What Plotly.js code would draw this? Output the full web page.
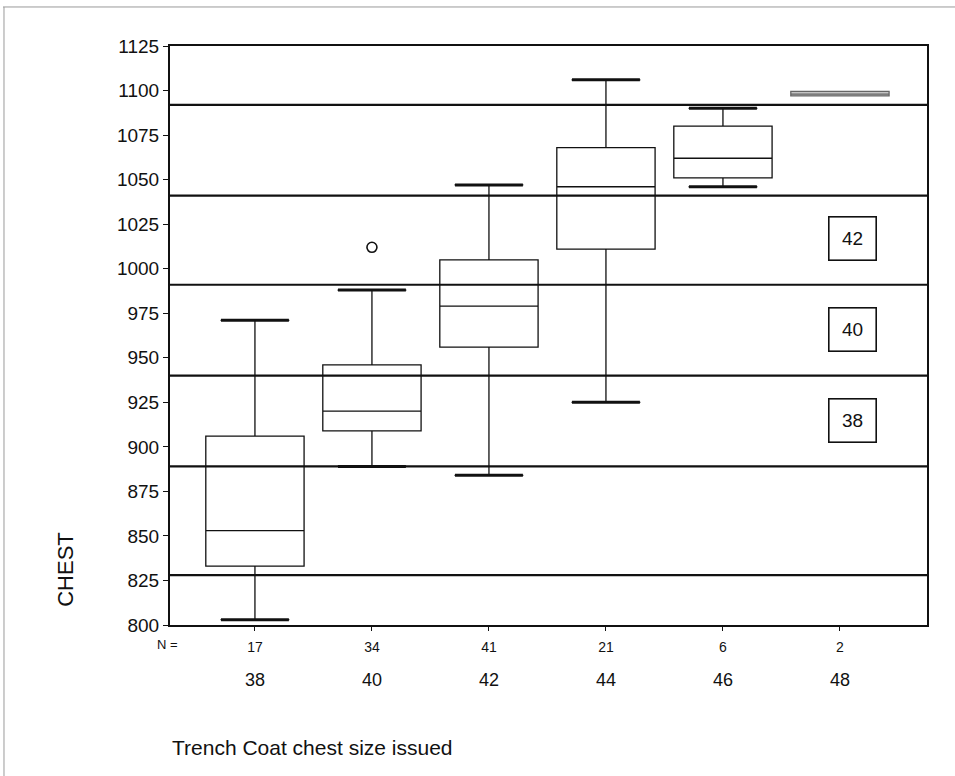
<!DOCTYPE html>
<html>
<head>
<meta charset="utf-8">
<script src="https://cdn.plot.ly/plotly-3.0.1.min.js"></script>
<style>html,body{margin:0;padding:0;background:#fff;}#chart{width:955px;height:776px;}</style>
</head>
<body>
<div id="chart"></div>
<script>
// ---- data ----
const sizes = ['38', '40', '42', '44', '46', '48'];
const nCounts = ['17', '34', '41', '21', '6', '2'];
const lowerWhisker = [803, 889, 884, 925, 1046, 1097];
const q1 = [833, 909, 956, 1011, 1051, 1097];
const median = [853, 920, 979, 1046, 1062, 1098];
const q3 = [906, 946, 1005, 1068, 1080, 1099.5];
const upperWhisker = [971, 988, 1047, 1106, 1090, 1099.5];
const outlierSize = ['40'];
const outlierValue = [1012];
const refLines = [1092, 1041, 991, 940, 889, 828];
const bandLabels = ['42', '40', '38'];
const bandLabelY = [1017, 966, 915];
const xTitle = 'Trench Coat chest size issued';
const yTitle = 'CHEST';

const FONT = 'Liberation Sans, Arial, sans-serif';
const nMain = 5;
// positions of the size categories on a linear axis (one slot per size)
const pos = sizes.map((_, i) => i);

function boxTrace(from, to, fill, lineColor) {
  return {
    type: 'box',
    x: pos.slice(from, to),
    q1: q1.slice(from, to),
    median: median.slice(from, to),
    q3: q3.slice(from, to),
    lowerfence: lowerWhisker.slice(from, to),
    upperfence: upperWhisker.slice(from, to),
    width: 0.84,
    whiskerwidth: 0.7,
    fillcolor: fill,
    line: {color: lineColor, width: 1.3},
    boxpoints: false,
    hoverinfo: 'skip',
    showlegend: false
  };
}

// heavier whisker caps (as in the reference), drawn from the whisker arrays
const capX = [], capY = [];
for (let i = 0; i < nMain; i++) {
  [lowerWhisker[i], upperWhisker[i]].forEach(v => {
    capX.push(pos[i] - 0.29, pos[i] + 0.29, null);
    capY.push(v, v, null);
  });
}

const traces = [
  boxTrace(0, nMain, '#ffffff', '#111111'),
  boxTrace(nMain, sizes.length, '#c4c4c4', '#666666'),
  {
    type: 'scatter', mode: 'lines', x: capX, y: capY,
    line: {color: '#111', width: 3}, hoverinfo: 'skip', showlegend: false, connectgaps: false
  },
  {
    type: 'scatter', mode: 'markers',
    x: outlierSize.map(s => pos[sizes.indexOf(s)]), y: outlierValue,
    marker: {symbol: 'circle-open', size: 10, color: '#111', line: {width: 1.6, color: '#111'}},
    hoverinfo: 'skip', showlegend: false
  }
];

const shapes = refLines.map(v => ({
  type: 'line', xref: 'paper', x0: 0, x1: 1, yref: 'y', y0: v, y1: v,
  line: {color: '#111', width: 2.2}, layer: 'above'
}));
// outer frame of the scanned figure
shapes.push({type: 'line', xref: 'paper', yref: 'paper', x0: -0.2206, x1: 1.04, y0: 1.0674, y1: 1.0674, line: {color: '#9a9a9a', width: 1}});
shapes.push({type: 'line', xref: 'paper', yref: 'paper', x0: -0.2193, x1: -0.2193, y0: 1.0674, y1: -0.27, line: {color: '#9a9a9a', width: 1}});

const annotations = [];
bandLabels.forEach((t, i) => annotations.push({
  xref: 'x', yref: 'y', x: 5.11, y: bandLabelY[i], text: t, showarrow: false,
  font: {family: FONT, size: 19, color: '#111'},
  bordercolor: '#111', borderwidth: 1.6, borderpad: 3, bgcolor: '#fff',
  width: 40, height: 36
}));
sizes.forEach((s, i) => annotations.push({
  xref: 'x', yref: 'paper', x: pos[i], y: -0.095, yanchor: 'middle', xanchor: 'center', text: s, showarrow: false,
  font: {family: FONT, size: 18, color: '#111'}
}));
annotations.push({
  xref: 'paper', yref: 'paper', x: -0.003, y: -0.0345, yanchor: 'middle', xanchor: 'center',
  text: 'N =', showarrow: false, font: {family: FONT, size: 13, color: '#111'}
});
annotations.push({
  xref: 'paper', yref: 'paper', x: 0, y: -0.212, xanchor: 'left', yanchor: 'middle',
  text: xTitle, showarrow: false, font: {family: FONT, size: 21, color: '#111'}
});
annotations.push({
  xref: 'paper', yref: 'paper', x: -0.139, y: 0.0967, xanchor: 'center', yanchor: 'middle',
  text: yTitle, textangle: -90, showarrow: false, font: {family: FONT, size: 22, color: '#111'}
});

const layout = {
  width: 955, height: 776,
  margin: {l: 170, r: 28, t: 46, b: 151},
  paper_bgcolor: '#fff', plot_bgcolor: '#fff',
  font: {family: FONT, color: '#111'},
  showlegend: false,
  boxmode: 'overlay',
  xaxis: {
    type: 'linear',
    range: [-0.726, 5.744],
    tickmode: 'array', tickvals: pos, ticktext: nCounts,
    ticks: 'outside', ticklen: 4, tickwidth: 1, tickcolor: '#111',
    ticklabelstandoff: 4,
    tickfont: {family: FONT, size: 14, color: '#111'},
    showgrid: false, zeroline: false,
    showline: true, linecolor: '#111', linewidth: 2, mirror: true
  },
  yaxis: {
    range: [800, 1125],
    tickmode: 'linear', tick0: 800, dtick: 25,
    ticks: 'outside', ticklen: 5, tickwidth: 1, tickcolor: '#111',
    tickfont: {family: FONT, size: 19, color: '#111'},
    showgrid: false, zeroline: false,
    showline: true, linecolor: '#111', linewidth: 2, mirror: true
  },
  shapes: shapes,
  annotations: annotations
};

Plotly.newPlot('chart', traces, layout, {staticPlot: true, displayModeBar: false});
</script>
</body>
</html>
